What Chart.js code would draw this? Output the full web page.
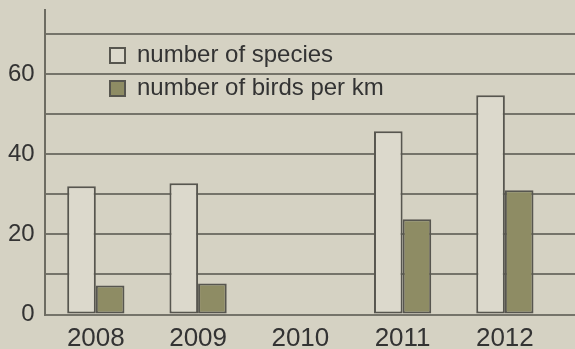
<!DOCTYPE html>
<html>
<head>
<meta charset="utf-8">
<script src="https://cdn.jsdelivr.net/npm/chart.js@4/dist/chart.umd.min.js"></script>
<style>
  html, body { margin: 0; padding: 0; background: #d5d2c3; }
  #wrap { width: 575px; height: 349px; }
</style>
</head>
<body>
<div id="wrap"><canvas id="c" width="575" height="349"></canvas></div>
<script>
const years = ['2008', '2009', '2010', '2011', '2012'];
const speciesCount = [32, 32.75, null, 45.75, 54.75];
const birdsPerKm = [7.25, 7.75, null, 23.75, 31];
const yTickLabels = [0, 20, 40, 60];
const seriesNames = ['number of species', 'number of birds per km'];

const BG = '#d5d2c3';
const GRID = '#75746a';

const bgPlugin = {
  id: 'bg',
  beforeDraw(chart) {
    const ctx = chart.ctx;
    ctx.save();
    ctx.fillStyle = BG;
    ctx.fillRect(0, 0, chart.width, chart.height);
    ctx.restore();
  }
};

// extend the horizontal grid lines to the right edge of the picture
const gridExtend = {
  id: 'gridExtend',
  beforeDatasetsDraw(chart) {
    const y = chart.scales.y, a = chart.chartArea, ctx = chart.ctx;
    ctx.save();
    ctx.strokeStyle = GRID;
    ctx.lineWidth = 2;
    y.ticks.forEach(t => {
      if (t.value % 10 !== 0) return;
      const py = Math.round(y.getPixelForValue(t.value));
      ctx.beginPath();
      ctx.moveTo(a.right, py);
      ctx.lineTo(chart.width, py);
      ctx.stroke();
    });
    ctx.restore();
  }
};

// place the legend inside the plot area
const legendPlace = {
  id: 'legendPlace',
  afterLayout(chart) {
    const l = chart.legend;
    if (!l) return;
    l.left = 101;
    l.top = 34.5;
    l.right = 420;
    l.bottom = 200;
    l.width = 319;
    l.height = 165.5;
  }
};

new Chart(document.getElementById('c'), {
  type: 'bar',
  data: {
    labels: years,
    datasets: [
      {
        label: seriesNames[0],
        data: speciesCount,
        backgroundColor: '#dcd9cc',
        borderColor: '#57564f',
        borderWidth: 2,
        borderSkipped: false
      },
      {
        label: seriesNames[1],
        data: birdsPerKm,
        backgroundColor: '#8e8c64',
        borderColor: '#57564f',
        borderWidth: 2,
        borderSkipped: false
      }
    ]
  },
  plugins: [bgPlugin, gridExtend, legendPlace],
  options: {
    responsive: false,
    animation: false,
    events: [],
    layout: { padding: { left: -2, right: 19, top: 10, bottom: -14.5 } },
    datasets: { bar: { categoryPercentage: 0.56, barPercentage: 1 } },
    scales: {
      x: {
        grid: { display: false, drawTicks: false },
        border: { display: false },
        ticks: {
          padding: 11.5,
          color: '#333333',
          font: { family: '"Liberation Sans", Arial, sans-serif', size: 26, lineHeight: 1 }
        }
      },
      y: {
        min: 0,
        max: 76,
        afterFit(scale) { scale.paddingTop = 0; scale.paddingBottom = 0; },
        grid: { color: GRID, lineWidth: 2, drawTicks: false },
        border: { display: true, color: '#6d6c62', width: 2 },
        ticks: {
          stepSize: 10,
          includeBounds: false,
          padding: 10,
          color: '#333333',
          font: { family: '"Liberation Sans", Arial, sans-serif', size: 24 },
          callback: v => (yTickLabels.includes(v) ? String(v) : '')
        }
      }
    },
    plugins: {
      tooltip: { enabled: false },
      legend: {
        position: 'chartArea',
        align: 'start',
        labels: {
          boxWidth: 15,
          boxHeight: 15,
          padding: 9,
          textAlign: 'left',
          color: '#333333',
          font: { family: '"Liberation Sans", Arial, sans-serif', size: 24 }
        }
      }
    }
  }
});
</script>
</body>
</html>
